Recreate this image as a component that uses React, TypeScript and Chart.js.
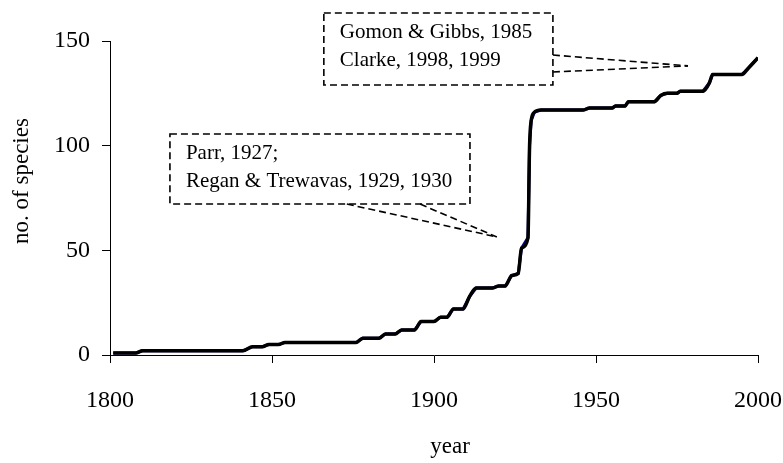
import React, { useEffect, useRef } from 'react';
import { Chart, registerables } from 'chart.js';

Chart.register(...registerables);

// ---- data ----
const years = [
  1801, 1808, 1810, 1841, 1844, 1847, 1849, 1852, 1854, 1876,
  1878, 1883, 1885, 1888, 1890, 1894, 1896, 1900, 1902, 1904,
  1906, 1909, 1911, 1913, 1918, 1920, 1922, 1924, 1926, 1927,
  1929, 1929.5, 1930, 1931, 1933, 1946, 1948, 1955, 1956, 1959,
  1960, 1968, 1970, 1972, 1975, 1976, 1983, 1985, 1986, 1995,
  1997, 2000,
];
const species = [
  1, 1, 2, 2, 4, 4, 5, 5, 6, 6,
  8, 8, 10, 10, 12, 12, 16, 16, 18, 18,
  22, 22, 28, 32, 32, 33, 33, 38, 39, 51,
  56, 100, 112, 116, 117, 117, 118, 118, 119, 119,
  121, 121, 124, 125, 125, 126, 126, 130, 134, 134,
  137, 142,
];
const xTickValues = [1800, 1850, 1900, 1950, 2000];
const yTickValues = [0, 50, 100, 150];

const xTitle = 'year';
const yTitle = 'no. of species';

const noteParr = ['Parr, 1927;', 'Regan & Trewavas, 1929, 1930'];
const noteGomon = ['Gomon & Gibbs, 1985', 'Clarke, 1998, 1999'];

// annotation geometry in data coordinates
const notes = [
  {
    lines: noteParr,
    box: { x0: 1818.5, y0: 105.6, x1: 1911.1, y1: 72.1 },
    from: [
      [1873.1, 72.1],
      [1895.7, 72.1],
    ],
    to: [1919.4, 56.4],
  },
  {
    lines: noteGomon,
    box: { x0: 1866, y0: 163.4, x1: 1936.7, y1: 129 },
    from: [
      [1936.7, 143.3],
      [1936.7, 135.2],
    ],
    to: [1978.4, 138.1],
  },
];

const FONT = '"Liberation Serif", "Times New Roman", serif';

const calloutPlugin = {
  id: 'callouts',
  afterDraw(chart: any) {
    const { ctx, scales } = chart;
    const xs = scales.x;
    const ys = scales.y;
    ctx.save();
    for (const n of notes) {
      const bx0 = xs.getPixelForValue(n.box.x0);
      const bx1 = xs.getPixelForValue(n.box.x1);
      const by0 = ys.getPixelForValue(n.box.y0);
      const by1 = ys.getPixelForValue(n.box.y1);
      ctx.strokeStyle = '#000';
      ctx.lineWidth = 1.6;
      ctx.setLineDash([7, 4]);
      ctx.strokeRect(bx0, by0, bx1 - bx0, by1 - by0);
      const tx = xs.getPixelForValue(n.to[0]);
      const ty = ys.getPixelForValue(n.to[1]);
      for (const f of n.from) {
        ctx.beginPath();
        ctx.moveTo(xs.getPixelForValue(f[0]), ys.getPixelForValue(f[1]));
        ctx.lineTo(tx, ty);
        ctx.stroke();
      }
      ctx.setLineDash([]);
      ctx.fillStyle = '#000';
      ctx.font = '21px ' + FONT;
      ctx.textAlign = 'left';
      ctx.textBaseline = 'middle';
      n.lines.forEach((t, i) => {
        ctx.fillText(t, bx0 + 16, by0 + 20 + i * 27.5);
      });
    }
    ctx.restore();
  },
};

// axis titles (offset from the plot centre as in the reference)
const axisTitlePlugin = {
  id: 'axisTitles',
  afterDraw(chart: any) {
    const { ctx, chartArea } = chart;
    ctx.save();
    ctx.fillStyle = '#000';
    ctx.font = '23px ' + FONT;
    ctx.textAlign = 'center';
    ctx.textBaseline = 'middle';
    ctx.fillText(xTitle, (chartArea.left + chartArea.right) / 2 + 16, 447);
    ctx.translate(22, (chartArea.top + chartArea.bottom) / 2 - 17);
    ctx.rotate(-Math.PI / 2);
    ctx.fillText(yTitle, 0, 0);
    ctx.restore();
  },
};

export default function App() {
  const ref = useRef<HTMLCanvasElement | null>(null);

  useEffect(() => {
    if (!ref.current) return;
    const pts = years.map((y, i) => ({ x: y, y: species[i] }));
    const chart = new Chart(ref.current, {
      type: 'line',
      data: {
        datasets: [
          {
            data: pts,
            borderColor: '#000000',
            borderWidth: 3.5,
            pointRadius: 0,
            cubicInterpolationMode: 'monotone',
            fill: false,
          },
          {
            data: pts,
            borderColor: '#000080',
            borderWidth: 3,
            pointRadius: 0,
            tension: 0,
            fill: false,
          },
        ],
      },
      options: {
        responsive: false,
        animation: false,
        events: [],
        layout: { padding: { left: 0, top: 41, right: 25, bottom: 0 } },
        plugins: {
          legend: { display: false },
          tooltip: { enabled: false },
        },
        scales: {
          x: {
            type: 'linear',
            min: 1800,
            max: 2000,
            afterBuildTicks: (s: any) => {
              s.ticks = xTickValues.map((v) => ({ value: v }));
            },
            afterFit: (s: any) => {
              s.height = 108;
              s.paddingLeft = 0;
              s.paddingRight = 0;
            },
            grid: {
              display: true,
              drawOnChartArea: false,
              drawTicks: true,
              tickLength: 8,
              color: '#000',
              lineWidth: 1,
            },
            border: { display: true, color: '#000', width: 1 },
            ticks: {
              color: '#000',
              font: { family: FONT, size: 24 },
              padding: 23,
              maxRotation: 0,
              callback: (v: any) => String(v),
            },
            title: { display: false, text: xTitle },
          },
          y: {
            type: 'linear',
            min: 0,
            max: 150,
            afterBuildTicks: (s: any) => {
              s.ticks = yTickValues.map((v) => ({ value: v }));
            },
            afterFit: (s: any) => {
              s.width = 110;
            },
            grid: {
              display: true,
              drawOnChartArea: false,
              drawTicks: true,
              tickLength: 8,
              color: '#000',
              lineWidth: 1,
            },
            border: { display: true, color: '#000', width: 1 },
            ticks: {
              color: '#000',
              font: { family: FONT, size: 24 },
              padding: 12,
              callback: (v: any) => String(v),
            },
            title: { display: false, text: yTitle },
          },
        },
      },
      plugins: [calloutPlugin, axisTitlePlugin],
    } as any);
    return () => chart.destroy();
  }, []);

  return (
    <div style={{ position: 'absolute', left: 0, top: 0, width: 783, height: 463, background: '#fff' }}>
      <canvas ref={ref} width={783} height={463} style={{ display: 'block' }} />
    </div>
  );
}
